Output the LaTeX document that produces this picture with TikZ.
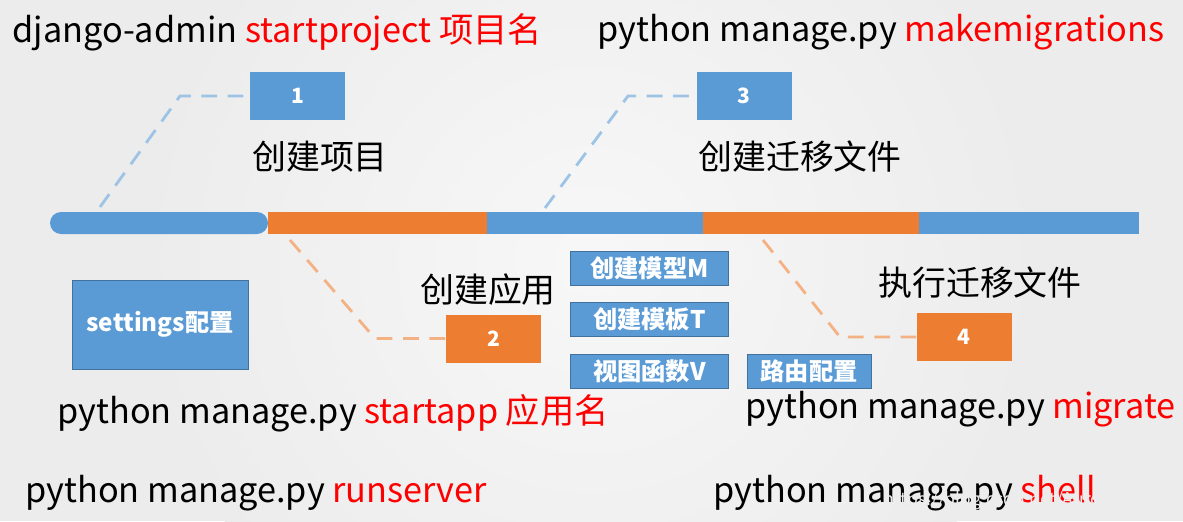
\documentclass[tikz,border=0pt]{standalone}
\usepackage{fontspec}
\setmainfont{Noto Sans CJK SC}
\usetikzlibrary{positioning}
\definecolor{barblue}{RGB}{91,155,213}
\definecolor{barorange}{RGB}{237,125,49}
\definecolor{lineblue}{RGB}{157,195,230}
\definecolor{lineorange}{RGB}{244,177,131}
\definecolor{cmdred}{RGB}{255,0,0}
\definecolor{bggray}{RGB}{236,236,236}
\definecolor{boxedge}{RGB}{65,113,156}

\begin{document}
\begin{tikzpicture}[x=0.02cm, y=-0.02cm,
    numbox/.style={minimum width=1.9cm, minimum height=0.96cm, inner sep=0pt,
        text=white, font=\fontsize{12pt}{14pt}\selectfont\bfseries},
    taskbox/.style={fill=barblue, draw=boxedge, line width=0.4pt, inner sep=0pt,
        minimum height=0.68cm, text=white, font=\fontsize{13.8pt}{15pt}\selectfont\bfseries},
    steplabel/.style={inner sep=0pt, font=\fontsize{19.3pt}{21pt}\selectfont},
    cmdline/.style={anchor=west, inner sep=0pt, font=\fontsize{19.5pt}{21pt}\selectfont},
    blueleg/.style={lineblue, line width=1.6pt, dash pattern=on 9pt off 6pt},
    orangeleg/.style={lineorange, line width=1.6pt, dash pattern=on 9pt off 6pt}]
    % background
    \useasboundingbox (0,0) rectangle (1183,521);
    \fill[bggray] (0,0) rectangle (1183,521);
    \shade[inner color=white!60!bggray, outer color=bggray] (591,260) circle (9cm);

    % time bar
    \fill[barblue, rounded corners=0.22cm] (268,212) -- (50,212) -- (50,234) -- (268,234) -- cycle;
    \foreach \a/\b/\c in {268/487/barorange, 487/703/barblue, 703/919/barorange, 919/1139/barblue} {
        \fill[\c] (\a,212) rectangle (\b,234);
    }

    % step boxes
    \node[numbox, fill=barblue] (b1) at (297.5,96) {1};
    \node[numbox, fill=barblue] (b3) at (744,96) {3};
    \node[numbox, fill=barorange] (b2) at (493.5,338.5) {2};
    \node[numbox, fill=barorange] (b4) at (964,337) {4};

    \node[steplabel] (l1) at (320,157) {创建项目};
    \node[steplabel] (l3) at (800,157) {创建迁移文件};
    \node[steplabel] (l2) at (488,290) {创建应用};
    \node[steplabel] (l4) at (980,283) {执行迁移文件};

    % dashed legs from the bar
    \coordinate (f1) at (100,207);  \coordinate (k1) at (180,96);
    \coordinate (f3) at (545,208);  \coordinate (k3) at (628,96);
    \coordinate (f2) at (290,240);  \coordinate (k2) at (375,338.5);
    \coordinate (f4) at (763,240);  \coordinate (k4) at (840,337);
    \draw[blueleg] (f1) -- (k1) -- (b1.west);
    \draw[blueleg] (f3) -- (k3) -- (b3.west);
    \draw[orangeleg] (f2) -- (k2) -- (b2.west);
    \draw[orangeleg] (f4) -- (k4) -- (b4.west);

    % app parts
    \node[taskbox, minimum width=3.52cm, minimum height=1.78cm] (set) at (160,324.5) {settings配置};
    \node[taskbox, minimum width=3.16cm] (mod) at (649.5,268) {创建模型M};
    \node[taskbox, minimum width=3.16cm, below=0.34cm of mod] (tpl) {创建模板T};
    \node[taskbox, minimum width=3.16cm, below=0.34cm of tpl] (view) {视图函数V};
    \node[taskbox, minimum width=2.48cm, right=0.36cm of view] (url) {路由配置};

    % commands
    \node[cmdline] (c1) at (12,32) {django-admin \textcolor{cmdred}{startproject 项目名}};
    \node[cmdline] (c3) at (597,32) {python manage.py \textcolor{cmdred}{makemigrations}};
    \node[cmdline] (c2) at (57,413) {python manage.py \textcolor{cmdred}{startapp 应用名}};
    \node[cmdline] (c4) at (745,409) {python manage.py \textcolor{cmdred}{migrate}};
    \node[cmdline] (c5) at (25,493) {python manage.py \textcolor{cmdred}{runserver}};
    \node[cmdline] (c6) at (713,493) {python manage.py \textcolor{cmdred}{shell}};

    \node[anchor=east, inner sep=0pt, text=white!85!gray, font=\fontsize{10pt}{12pt}\selectfont] (wm) at (1175,501) {https://blog.csdn.net/Aurora\_1970s};
\end{tikzpicture}
\end{document}
